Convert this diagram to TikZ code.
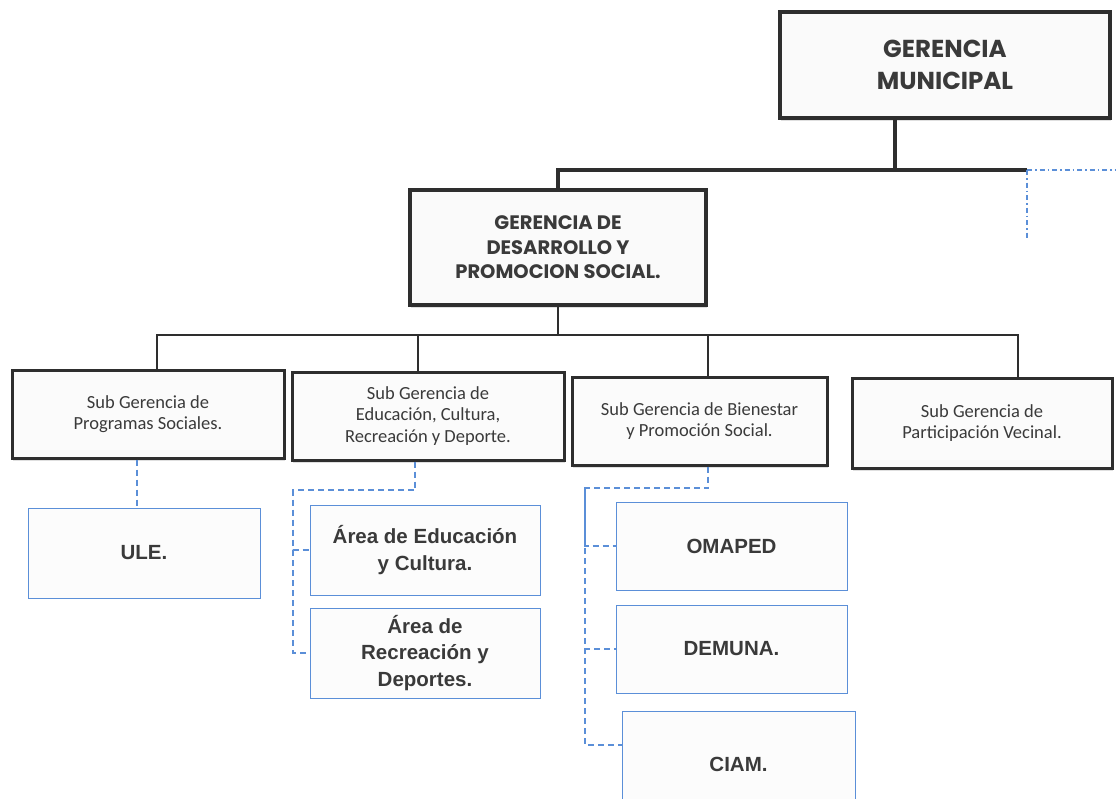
\documentclass[tikz,border=0pt]{standalone}
\usepackage{fontspec}
\setmainfont{Carlito}
\newfontfamily\arialf{Liberation Sans}
\newfontfamily\gothic{Poppins}
\usetikzlibrary{shadows}
\definecolor{bl}{HTML}{5B8FD8}
\definecolor{tx}{HTML}{3A3A3A}
\definecolor{bx}{HTML}{2E2E2E}
\tikzset{
  topbox/.style={draw=bx, line width=4.5pt, fill=white!96!gray, align=center, text=tx,
     font=\gothic\bfseries, drop shadow={shadow xshift=1pt, shadow yshift=-3pt, opacity=0.25}, inner sep=0pt},
  subbox/.style={draw=bx, line width=3pt, fill=white!97!gray, align=center, text=tx,
     font=\fontsize{18.5}{21.5}\selectfont, drop shadow={shadow xshift=1pt, shadow yshift=-3pt, opacity=0.25}, inner sep=0pt},
  areabox/.style={draw=bl, line width=1pt, fill=white!98!gray, align=center, text=tx,
     font=\arialf\bfseries\fontsize{20.5}{26.5}\selectfont, inner sep=0pt},
  mainline/.style={draw=bx, line width=4.5pt},
  subline/.style={draw=bx, line width=2pt},
  bdash/.style={draw=bl, line width=1.3pt, dash pattern=on 6pt off 4pt},
  bdashdot/.style={draw=bl, line width=1.3pt, dash pattern=on 5pt off 3pt on 1.5pt off 3pt},
}
\begin{document}
\begin{tikzpicture}[x=1pt,y=-1pt]
\clip (0,0) rectangle (1116,798);
\fill[white] (0,0) rectangle (1116,798);
% top level
\node[topbox, minimum width=330pt, minimum height=106pt, font=\gothic\bfseries\fontsize{24.5}{32}\selectfont] (gm) at (945,65) {GERENCIA\\MUNICIPAL};
\node[topbox, minimum width=296pt, minimum height=115pt, font=\gothic\bfseries\fontsize{19.5}{24.5}\selectfont] (ds) at (558,247.5) {GERENCIA DE\\DESARROLLO Y\\PROMOCION SOCIAL.};
% sub gerencias
\node[subbox, minimum width=272pt, minimum height=88pt] (s1) at (148,414) {Sub Gerencia de\\Programas Sociales.};
\node[subbox, minimum width=272pt, minimum height=88pt] (s2) at (428,416) {Sub Gerencia de\\Educación, Cultura,\\Recreación y Deporte.};
\node[subbox, minimum width=255pt, minimum height=88pt] (s3) at (699.5,421) {Sub Gerencia de Bienestar\\y Promoción Social.};
\node[subbox, minimum width=260pt, minimum height=90pt] (s4) at (982,423) {Sub Gerencia de\\Participación Vecinal.};
% areas
\node[areabox, minimum width=232pt, minimum height=90pt] (ule) at (144,553) {ULE.};
\node[areabox, minimum width=230pt, minimum height=90pt] (aec) at (425,550) {Área de Educación\\y Cultura.};
\node[areabox, minimum width=230pt, minimum height=90pt] (ard) at (425,653) {Área de\\Recreación y\\Deportes.};
\node[areabox, minimum width=231pt, minimum height=88pt] (oma) at (731.5,546) {OMAPED};
\node[areabox, minimum width=231pt, minimum height=88pt] (dem) at (731.5,649) {DEMUNA.};
\node[areabox, minimum width=233pt, minimum height=107pt] (cia) at (738.5,764.5) {CIAM.};
% coordinates
\coordinate (j1) at (895,170);
\coordinate (j2) at (1027,170);
\coordinate (ra) at (1116,170);
\coordinate (rb) at (1027,238);
\coordinate (j3) at (558,335);
\coordinate (b1) at (157,335);
\coordinate (b2) at (418,335);
\coordinate (b3) at (708,335);
\coordinate (b4) at (1018,335);
\coordinate (c1) at (137,480);
\coordinate (c2) at (415,490);
\coordinate (k2) at (293,490);
\coordinate (c3) at (708,488);
\coordinate (k3) at (585,488);
% main connectors
\draw[mainline] (gm.south -| j1) -- (j1);
\draw[mainline] (ds.north) -- (ds.north |- j1) -- (j2);
\draw[bdashdot] (j2) -- (ra);
\draw[bdashdot] (j2) -- (rb);
\draw[subline] (ds.south) -- (j3);
\draw[subline] (s1.north -| b1) -- (b1) -- (b4) -- (s4.north -| b4);
\draw[subline] (s2.north -| b2) -- (b2);
\draw[subline] (s3.north -| b3) -- (b3);
% dashed connectors
\draw[bdash] (s1.south -| c1) -- (ule.north -| c1);
\draw[bdash] (s2.south -| c2) -- (c2) -- (k2) |- (aec.west);
\draw[bdash] (k2) |- (ard.west);
\draw[bdash] (s3.south -| c3) -- (c3) -- (k3) |- (oma.west);
\draw[bdash] (k3) |- (dem.west);
\draw[bdash] (k3) |- ([yshift=19.5pt]cia.west);
\end{tikzpicture}
\end{document}
